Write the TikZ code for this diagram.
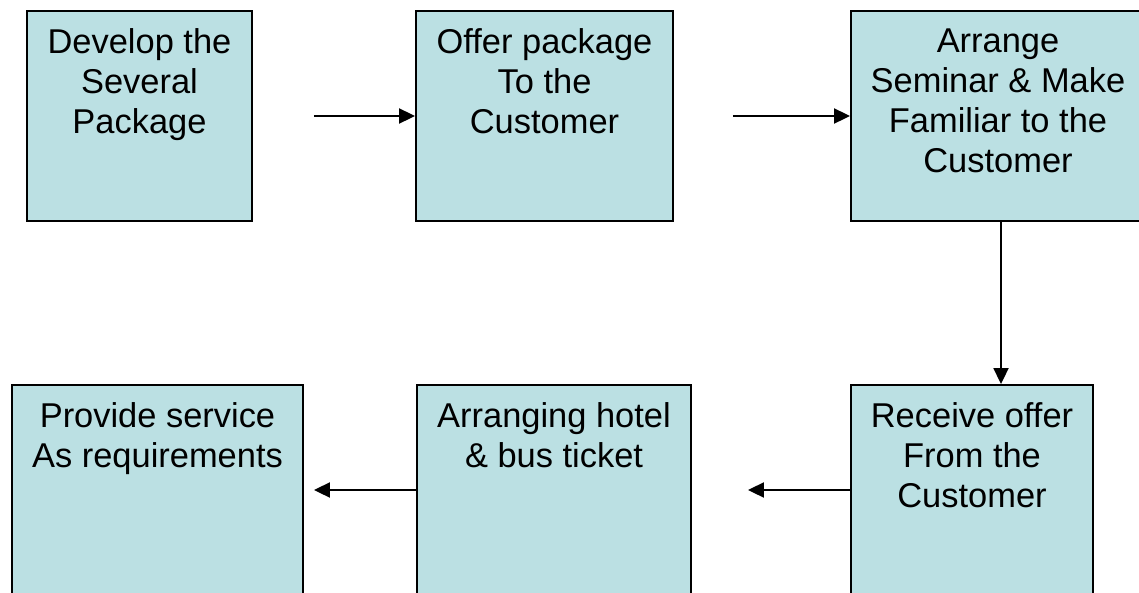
\documentclass[tikz,border=0pt]{standalone}
\usepackage{fontspec}
\setmainfont{Liberation Sans}
\usetikzlibrary{arrows.meta}
\definecolor{boxblue}{RGB}{187,224,227}

\begin{document}
\begin{tikzpicture}[x=0.02cm,y=-0.02cm,
    stepbox/.style={draw,line width=1.1pt,fill=boxblue,minimum height=4.2cm,inner sep=0pt},
    steptext/.style={anchor=north,align=center,inner sep=0pt,yshift=-0.36cm,
      font=\fontsize{19.6}{22.8}\selectfont},
    flow/.style={line width=1.1pt,-{Triangle[length=0.32cm,width=0.3cm]}}]
  \useasboundingbox (0,0) rectangle (1139,592);
  \clip (0,0) rectangle (1139,592);
  % top row
  \node[stepbox,minimum width=4.5cm] (develop) at (139.5,116) {};
  \node[steptext] (develop-t) at (develop.north) {Develop the\\Several\\Package};
  \node[stepbox,minimum width=5.14cm] (offer) at (544.5,116) {};
  \node[steptext] (offer-t) at (offer.north) {Offer package\\To the\\Customer};
  \node[stepbox,minimum width=5.88cm] (arrange) at (998,116) {};
  \node[steptext] (arrange-t) at (arrange.north) {Arrange\\Seminar \& Make\\Familiar to the\\Customer};
  % bottom row
  \node[stepbox,minimum width=4.84cm] (receive) at (972,490) {};
  \node[steptext] (receive-t) at (receive.north) {Receive offer\\From the\\Customer};
  \node[stepbox,minimum width=5.48cm] (hotel) at (554,490) {};
  \node[steptext] (hotel-t) at (hotel.north) {Arranging hotel\\\& bus ticket};
  \node[stepbox,minimum width=5.82cm] (service) at (157.5,490) {};
  \node[steptext] (service-t) at (service.north) {Provide service\\As requirements};
  % connectors
  \draw[flow] ([xshift=1.22cm]develop.east) -- (offer.west);
  \draw[flow] ([xshift=1.18cm]offer.east) -- (arrange.west);
  \draw[flow] ([xshift=0.06cm]arrange.south) -- ([xshift=0.06cm]arrange.south |- receive.north);
  \draw[flow] (receive.west) -- ([xshift=1.12cm]hotel.east);
  \draw[flow] (hotel.west) -- ([xshift=0.2cm]service.east);
\end{tikzpicture}
\end{document}
